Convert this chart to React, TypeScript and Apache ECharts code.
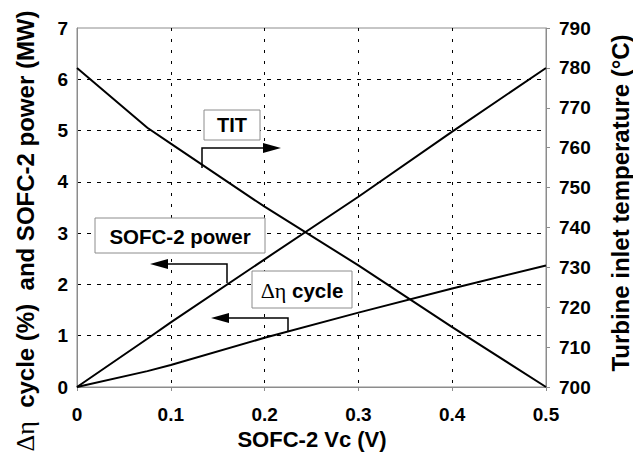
import React, { useEffect, useRef } from "react";
import * as echarts from "echarts";

const vc = [0, 0.075, 0.1, 0.2, 0.3, 0.4, 0.5];
const sofcPower = [0, 0.94, 1.26, 2.49, 3.71, 4.98, 6.22];
const deltaEta = [0, 0.31, 0.43, 0.96, 1.45, 1.92, 2.37];
const tit = [780, 765, 761, 745.2, 730.5, 715.0, 700];

const xTicks = { min: 0, max: 0.5, interval: 0.1 };
const leftTicks = { min: 0, max: 7, interval: 1 };
const rightTicks = { min: 700, max: 790, interval: 10 };

const FONT = "'Liberation Sans', Arial, sans-serif";
const SERIF = "'Liberation Serif', 'DejaVu Serif', serif";

export default function App() {
  const ref = useRef<HTMLDivElement>(null);
  useEffect(() => {
    if (!ref.current) return;
    const chart = echarts.init(ref.current, undefined, { renderer: "svg" });
    const pair = (ys: number[]) => vc.map((x, i) => [x, ys[i]]);
    const tickFont = { color: "#000", fontSize: 19, fontWeight: "bold" as const, fontFamily: FONT };
    const gray = "#8c8c8c";
    const hSplit = ["transparent", "#000", "#000", "#000", "#000", "#000", "#000", "transparent"];
    const vSplit = ["transparent", "#000", "#000", "#000", "#000", "transparent"];
    const boxStyle = { fill: "#fff", stroke: gray, lineWidth: 1 };
    const lineSt = { stroke: "#000", lineWidth: 1.5, fill: "none" };
    const titleFont = `bold 24px ${FONT}`;
    chart.setOption({
      animation: false,
      backgroundColor: "#fff",
      grid: {
        left: 77, right: 87, top: 28, bottom: 75,
        show: true, borderColor: gray, borderWidth: 1, backgroundColor: "transparent",
        containLabel: false, outerBoundsMode: "none",
      },
      xAxis: {
        type: "value",
        ...xTicks,
        axisLine: { show: true, lineStyle: { color: gray } },
        axisTick: { show: true, length: 4, lineStyle: { color: gray } },
        axisLabel: { ...tickFont, margin: 18, formatter: (v: number) => (v === 0 ? "0" : v.toFixed(1)) },
        splitLine: { show: true, lineStyle: { color: vSplit, type: [3, 8], width: 1 } },
      },
      yAxis: [
        {
          type: "value",
          ...leftTicks,
          position: "left",
          axisLine: { show: true, lineStyle: { color: gray } },
          axisTick: { show: false },
          axisLabel: { ...tickFont, margin: 9 },
          splitLine: { show: true, lineStyle: { color: hSplit, type: [4, 6], width: 1 } },
        },
        {
          type: "value",
          ...rightTicks,
          position: "right",
          axisLine: { show: true, lineStyle: { color: gray } },
          axisTick: { show: true, inside: false, length: 4, lineStyle: { color: gray } },
          axisLabel: { ...tickFont, margin: 13 },
          splitLine: { show: false },
        },
      ],
      series: [
        { name: "SOFC-2 power", type: "line", data: pair(sofcPower), yAxisIndex: 0, symbol: "none", lineStyle: { color: "#000", width: 2 }, z: 3 },
        { name: "Δη cycle", type: "line", data: pair(deltaEta), yAxisIndex: 0, symbol: "none", lineStyle: { color: "#000", width: 2 }, z: 3 },
        { name: "TIT", type: "line", data: pair(tit), yAxisIndex: 1, symbol: "none", lineStyle: { color: "#000", width: 2 }, z: 3 },
      ],
      graphic: [
        {
          type: "text",
          x: 25,
          y: 231,
          rotation: Math.PI / 2,
          z: 100,
          style: {
            text: "{s|Δη}  cycle (%)  and SOFC-2 power (MW)",
            align: "center",
            verticalAlign: "middle",
            fill: "#000",
            font: titleFont,
            rich: { s: { fontFamily: SERIF, fontSize: 26, fontWeight: "normal", fill: "#000" } },
          },
        },
        {
          type: "text",
          x: 620,
          y: 203,
          rotation: Math.PI / 2,
          z: 100,
          style: { text: "Turbine inlet temperature (°C)", align: "center", verticalAlign: "middle", fill: "#000", font: titleFont },
        },
        {
          type: "text",
          x: 312,
          y: 439,
          z: 100,
          style: { text: "SOFC-2 Vc (V)", align: "center", verticalAlign: "middle", fill: "#000", font: `bold 22px ${FONT}` },
        },
        { type: "rect", z: 100, shape: { x: 204, y: 110, width: 56, height: 30 }, style: boxStyle },
        { type: "text", z: 101, x: 232, y: 125, style: { text: "TIT", align: "center", verticalAlign: "middle", fill: "#000", font: `bold 20px ${FONT}` } },
        { type: "polyline", z: 100, shape: { points: [[202, 168], [202, 148], [266, 148]] }, style: lineSt },
        { type: "polygon", z: 100, shape: { points: [[281, 148], [263, 143], [263, 153]] }, style: { fill: "#000" } },

        { type: "rect", z: 100, shape: { x: 95, y: 218, width: 170, height: 35 }, style: boxStyle },
        { type: "text", z: 101, x: 180, y: 236, style: { text: "SOFC-2 power", align: "center", verticalAlign: "middle", fill: "#000", font: `bold 20.5px ${FONT}` } },
        { type: "polyline", z: 100, shape: { points: [[227, 283], [227, 264], [166, 264]] }, style: lineSt },
        { type: "polygon", z: 100, shape: { points: [[150, 264], [168, 259], [168, 269]] }, style: { fill: "#000" } },

        { type: "rect", z: 100, shape: { x: 252, y: 271, width: 100, height: 37 }, style: boxStyle },
        {
          type: "text",
          z: 101,
          x: 302,
          y: 290,
          style: {
            text: "{s|Δη} cycle",
            align: "center",
            verticalAlign: "middle",
            fill: "#000",
            font: `bold 20.5px ${FONT}`,
            rich: { s: { fontFamily: SERIF, fontSize: 22, fontWeight: "normal", fill: "#000" } },
          },
        },
        { type: "polyline", z: 100, shape: { points: [[288, 332], [288, 318], [227, 318]] }, style: lineSt },
        { type: "polygon", z: 100, shape: { points: [[211, 318], [229, 313], [229, 323]] }, style: { fill: "#000" } },
      ],
    });
    return () => chart.dispose();
  }, []);
  return <div ref={ref} style={{ width: 633, height: 462, position: "absolute", left: 0, top: 0 }} />;
}
